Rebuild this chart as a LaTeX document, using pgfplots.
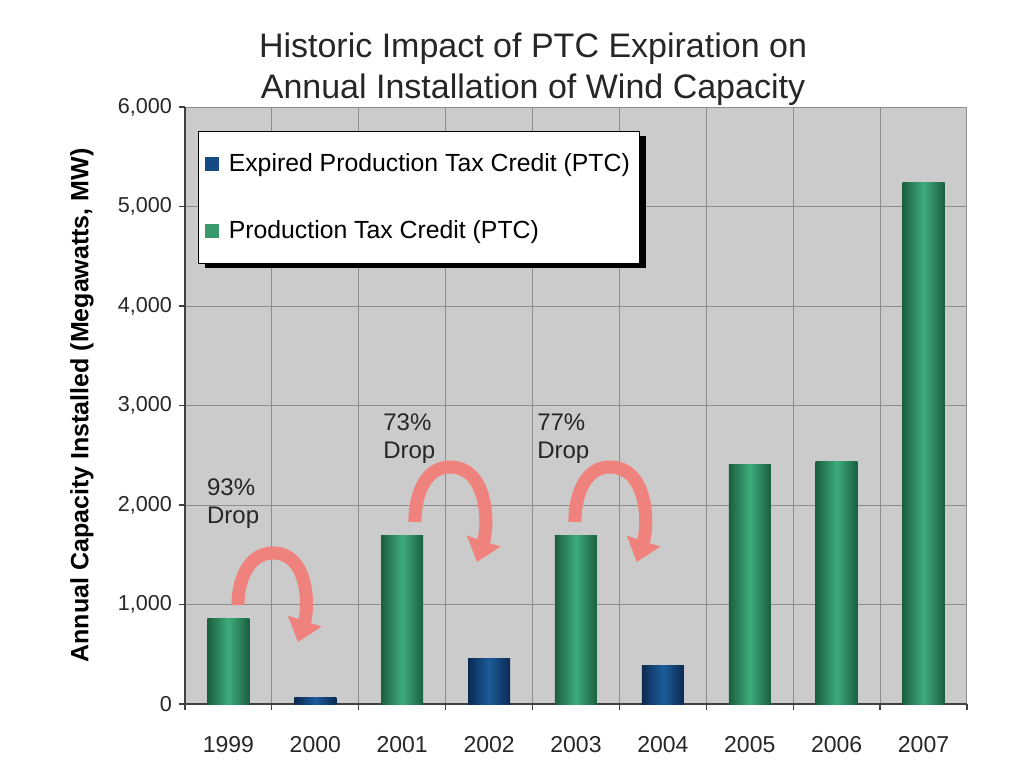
\documentclass[border=0pt]{standalone}
\usepackage{fontspec}
\setmainfont{Liberation Sans}
\usepackage{pgfplots}
\pgfplotsset{compat=1.18}
\usetikzlibrary{arrows.meta,shadows}
\definecolor{plotbg}{HTML}{CBCBCB}
\definecolor{gridc}{HTML}{8E8E8E}
\definecolor{gdark}{HTML}{1A5F3F}
\definecolor{glight}{HTML}{3EAB7B}
\definecolor{gleg}{HTML}{3A9A6E}
\definecolor{bdark}{HTML}{0A2A52}
\definecolor{blight}{HTML}{1D5C9A}
\definecolor{bleg}{HTML}{154A85}
\definecolor{arrowc}{HTML}{F0827D}
\pgfplotsset{
  gbar/.style={ybar, bar width=21pt, bar shift=0pt, draw=none, forget plot,
    left color=gdark, right color=gdark, middle color=glight},
  bbar/.style={ybar, bar width=21pt, bar shift=0pt, draw=none, forget plot,
    left color=bdark, right color=bdark, middle color=blight},
}
\begin{document}
\begin{tikzpicture}
\path[use as bounding box] (-92.5pt,-39.5pt) rectangle (419pt,352pt);
\begin{axis}[
  scale only axis, width=391pt, height=298.5pt,
  xmin=-0.5, xmax=8.5, ymin=0, ymax=6000,
  axis x line*=bottom, axis y line*=left,
  axis line style={color=black!75, line width=0.6pt},
  axis background/.style={fill=plotbg},
  xtick={-0.5,0.5,1.5,2.5,3.5,4.5,5.5,6.5,7.5,8.5},
  x tick label as interval,
  xticklabels={1999,2000,2001,2002,2003,2004,2005,2006,2007},
  ytick={0,1000,2000,3000,4000,5000,6000},
  xmajorgrids, ymajorgrids,
  grid style={gridc, line width=0.5pt},
  tick align=outside,
  major tick length=3pt,
  tick style={color=black!75, line width=0.6pt},
  /pgf/number format/assume math mode=true,
  /pgf/number format/1000 sep={,},
  xticklabel style={font=\fontsize{11.5}{13}\selectfont, color=black!85, yshift=-9.5pt},
  yticklabel style={font=\fontsize{10.8}{13}\selectfont, color=black!85},
  legend cell align=left,
  legend style={at={(rel axis cs:0.017,0.96)}, anchor=north west,
    draw=black, line width=0.5pt, fill=white,
    font=\fontsize{12.4}{14}\selectfont,
    inner xsep=3pt, inner ysep=9pt, row sep=19pt, column sep=3pt,
    drop shadow={shadow xshift=3pt, shadow yshift=-2.5pt, fill=black, opacity=1}},
]
\addlegendimage{legend image code/.code={\pgfsetfillcolor{bleg}\pgfpathrectangle{\pgfpoint{0pt}{-3.5pt}}{\pgfpoint{7pt}{7pt}}\pgfusepath{fill}}}
\addlegendentry{Expired Production Tax Credit (PTC)}
\addlegendimage{legend image code/.code={\pgfsetfillcolor{gleg}\pgfpathrectangle{\pgfpoint{0pt}{-3.5pt}}{\pgfpoint{7pt}{7pt}}\pgfusepath{fill}}}
\addlegendentry{Production Tax Credit (PTC)}

\addplot[gbar] coordinates {(0,860)};
\addplot[bbar] coordinates {(1,70)};
\addplot[gbar] coordinates {(2,1690)};
\addplot[bbar] coordinates {(3,455)};
\addplot[gbar] coordinates {(4,1690)};
\addplot[bbar] coordinates {(5,390)};
\addplot[gbar] coordinates {(6,2410)};
\addplot[gbar] coordinates {(7,2440)};
\addplot[gbar] coordinates {(8,5240)};

\draw[arrowc, line width=6.5pt, -{Triangle[length=11pt,width=17pt]}]
  (axis cs:0.109,995) to[out=90,in=180] (axis cs:0.512,1518) to[out=0,in=72] (axis cs:0.800,623);
\draw[arrowc, line width=6.5pt, -{Triangle[length=11pt,width=17pt]}]
  (axis cs:2.146,1829) to[out=90,in=180] (axis cs:2.549,2382) to[out=0,in=72] (axis cs:2.860,1427);
\draw[arrowc, line width=6.5pt, -{Triangle[length=11pt,width=17pt]}]
  (axis cs:3.987,1829) to[out=90,in=180] (axis cs:4.390,2382) to[out=0,in=72] (axis cs:4.700,1427);

\node[anchor=west, align=left, font=\fontsize{12}{14}\selectfont, color=black!85, inner sep=0pt] at (axis cs:-0.25,2010) {93\%\\Drop};
\node[anchor=west, align=left, font=\fontsize{12}{14}\selectfont, color=black!85, inner sep=0pt] at (axis cs:1.778,2668) {73\%\\Drop};
\node[anchor=west, align=left, font=\fontsize{12}{14}\selectfont, color=black!85, inner sep=0pt] at (axis cs:3.55,2668) {77\%\\Drop};
\end{axis}
\node[align=center, font=\fontsize{17}{20.5}\selectfont, color=black!85] at (174pt,317.5pt) {Historic Impact of PTC Expiration on\\Annual Installation of Wind Capacity};
\node[rotate=90, font=\bfseries\fontsize{12.5}{14}\selectfont] at (-51.5pt,149.25pt) {Annual Capacity Installed (Megawatts, MW)};
\end{tikzpicture}
\end{document}
